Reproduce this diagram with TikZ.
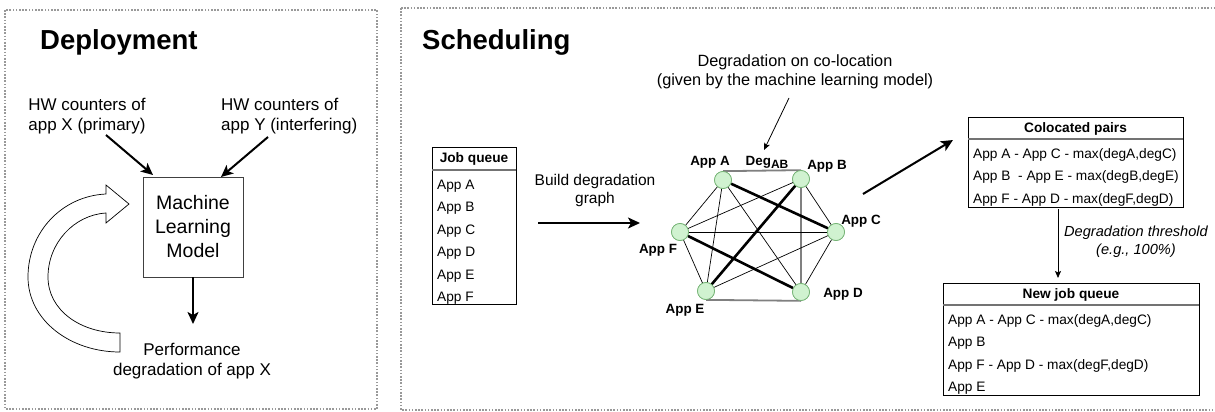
\documentclass[tikz,border=0pt]{standalone}
\usepackage{fontspec}
\setmainfont{Liberation Sans}
\usetikzlibrary{arrows.meta}
\newcommand{\fsz}[2]{\fontsize{#1}{#2}\selectfont}
\tikzset{
  panel/.style={draw=black!40, dash pattern=on 1.6pt off 1.6pt, line width=1.6pt},
  title/.style={font=\fsz{27.5}{32}\bfseries, inner sep=0pt},
  bigarrow/.style={line width=2pt, -{Stealth[length=12pt,width=11pt,inset=3pt]}},
  smallarrow/.style={line width=0.8pt, -{Stealth[length=7pt,width=6pt,inset=1.5pt]}},
  gnode/.style={circle, draw=green!45!black!55, fill=green!15!white!90!gray, line width=0.7pt, minimum size=17pt, inner sep=0pt},
  glabel/.style={font=\fsz{13.4}{16}\bfseries, inner sep=0pt},
  rowtxt/.style={font=\fsz{13.7}{16}, inner sep=0pt, anchor=base west},
  hdrtxt/.style={font=\fsz{13.7}{16}\bfseries, inner sep=0pt},
  tbl/.style={draw=black, line width=0.9pt, anchor=north west, inner sep=0pt},
  sep/.style={draw=black!55, line width=1.2pt},
  thinedge/.style={line width=0.7pt},
  thickedge/.style={line width=2.6pt},
  grayedge/.style={draw=black!50, line width=1.8pt},
}
\begin{document}
\begin{tikzpicture}[x=1pt,y=-1pt]
\useasboundingbox (0,0) rectangle (1215,412);
% panels
\draw[panel] (5,10) rectangle (377,409);
\draw[panel] (401,8) -- (1225,8);
\draw[panel] (401,8) -- (401,410) -- (1225,410);

% ---------------- Deployment ----------------
\node[title, anchor=base west] (t1) at (40,50) {Deployment};
\node[font=\fsz{17}{20}, align=center, inner sep=0pt] (hwx) at (87,116.5) {HW counters of\\app X (primary)};
\node[font=\fsz{17}{20}, align=left, inner sep=0pt, anchor=west] (hwy) at (221,116.5) {HW counters of\\app Y (interfering)};
\node[draw=black!75, line width=0.8pt, minimum width=100pt, minimum height=100pt, align=center, font=\fsz{19.5}{24}] (ml) at (193,227) {Machine\\Learning\\Model};
\node[font=\fsz{17}{20}, align=center, inner sep=0pt] (perf) at (192,361) {Performance\\degradation of app X};
\coordinate (hx1) at (106,135);
\coordinate (hx2) at (153,175);
\coordinate (hy1) at (268,137);
\coordinate (hy2) at (221,177);
\coordinate (mlo) at (193,324);
\draw[bigarrow] (hx1) -- (hx2);
\draw[bigarrow] (hy1) -- (hy2);
\draw[bigarrow] (ml.south) -- (mlo);
% curved block arrow
\draw[line width=0.7pt, fill=white]
  (120,352) .. controls (70,352) and (28,320) .. (28,277)
  .. controls (28,232) and (62,196) .. (106,194)
  -- (106,185) -- (129,204) -- (106,223) -- (106,213)
  .. controls (74,215) and (48,243) .. (48,277)
  .. controls (48,310) and (80,333) .. (120,333) -- cycle;

% ---------------- Scheduling ----------------
\node[title, anchor=base west] (t2) at (422,50) {Scheduling};

% job queue table
\node[tbl, minimum width=84pt, minimum height=157pt] (jq) at (432,147) {};
\draw[sep] (432,170) -- (516,170);
\node[hdrtxt] (jqh) at (474,158.5) {Job queue};
\node[rowtxt] (jq1) at (437,189) {App A};
\node[rowtxt] (jq2) at (437,211.5) {App B};
\node[rowtxt] (jq3) at (437,234) {App C};
\node[rowtxt] (jq4) at (437,256.5) {App D};
\node[rowtxt] (jq5) at (437,279) {App E};
\node[rowtxt] (jq6) at (437,301) {App F};

% build arrow
\node[font=\fsz{15.5}{18}, align=center, inner sep=0pt] (bl) at (595,190) {Build degradation\\graph};
\coordinate (b1) at (538,223);
\coordinate (b2) at (640,223);
\draw[bigarrow] (b1) -- (b2);

% degradation annotation
\node[font=\fsz{16.3}{19.5}, align=center, inner sep=0pt] (dl) at (795,72) {Degradation on co-location\\(given by the machine learning model)};
\coordinate (d1) at (789,98);
\coordinate (d2) at (764,150);
\draw[smallarrow] (d1) -- (d2);

% graph
\node[gnode] (A) at (723,180) {};
\node[gnode] (B) at (801,179) {};
\node[gnode] (C) at (836,232) {};
\node[gnode] (D) at (801,292) {};
\node[gnode] (E) at (706,291) {};
\node[gnode] (F) at (680,232) {};
\draw[grayedge] (A.north) -- (B.north);
\draw[grayedge] (B.north) -- (D.south);
\draw[grayedge] (E.south) -- (D.south);
\draw[thinedge] (A) -- (F);
\draw[thinedge] (A) -- (E);
\draw[thinedge] (A) -- (D);
\draw[thinedge] (B) -- (C);
\draw[thinedge] (B) -- (F);
\draw[thinedge] (C) -- (D);
\draw[thinedge] (C) -- (E);
\draw[thinedge] (C) -- (F);
\draw[thinedge] (E) -- (F);
\draw[thickedge] (A) -- (C);
\draw[thickedge] (B) -- (E);
\draw[thickedge] (F) -- (D);
\foreach \p in {{723,180},{801,179},{836,232},{801,292},{706,291},{680,232}}
  \node[gnode] at (\p) {};
\node[glabel] (lA) at (710,162) {App A};
\node[glabel] (lDeg) at (767,162) {Deg\raisebox{-3pt}{\fsz{12}{12}\bfseries AB}};
\node[glabel] (lB) at (827,166) {App B};
\node[glabel] (lC) at (861,221) {App C};
\node[glabel] (lD) at (843,294) {App D};
\node[glabel] (lE) at (685,310) {App E};
\node[glabel] (lF) at (658,250) {App F};

% arrow to colocated pairs
\coordinate (g1) at (863,194);
\coordinate (g2) at (953,140);
\draw[bigarrow] (g1) -- (g2);

% colocated pairs table
\node[tbl, minimum width=215pt, minimum height=90pt] (cp) at (968,117) {};
\draw[sep] (968,139) -- (1183,139);
\node[hdrtxt] (cph) at (1075.5,128.5) {Colocated pairs};
\node[rowtxt] (cp1) at (973,158) {App A - App C - max(degA,degC)};
\node[rowtxt] (cp2) at (973,180.5) {App B\ \ - App E - max(degB,degE)};
\node[rowtxt] (cp3) at (973,203) {App F - App D - max(degF,degD)};

% threshold arrow
\coordinate (c1) at (1058,209);
\coordinate (c2) at (1058,278);
\draw[smallarrow] (c1) -- (c2);
\node[font=\fsz{14.6}{18}\itshape, align=center, inner sep=0pt] (th) at (1136,242) {Degradation threshold\\(e.g., 100\%)};

% new job queue table
\node[tbl, minimum width=256pt, minimum height=112pt] (nq) at (943,283) {};
\draw[sep] (943,305) -- (1199,305);
\node[hdrtxt] (nqh) at (1071,294.5) {New job queue};
\node[rowtxt] (nq1) at (948,324) {App A - App C - max(degA,degC)};
\node[rowtxt] (nq2) at (948,346.5) {App B};
\node[rowtxt] (nq3) at (948,369) {App F - App D - max(degF,degD)};
\node[rowtxt] (nq4) at (948,391.5) {App E};
\end{tikzpicture}
\end{document}
